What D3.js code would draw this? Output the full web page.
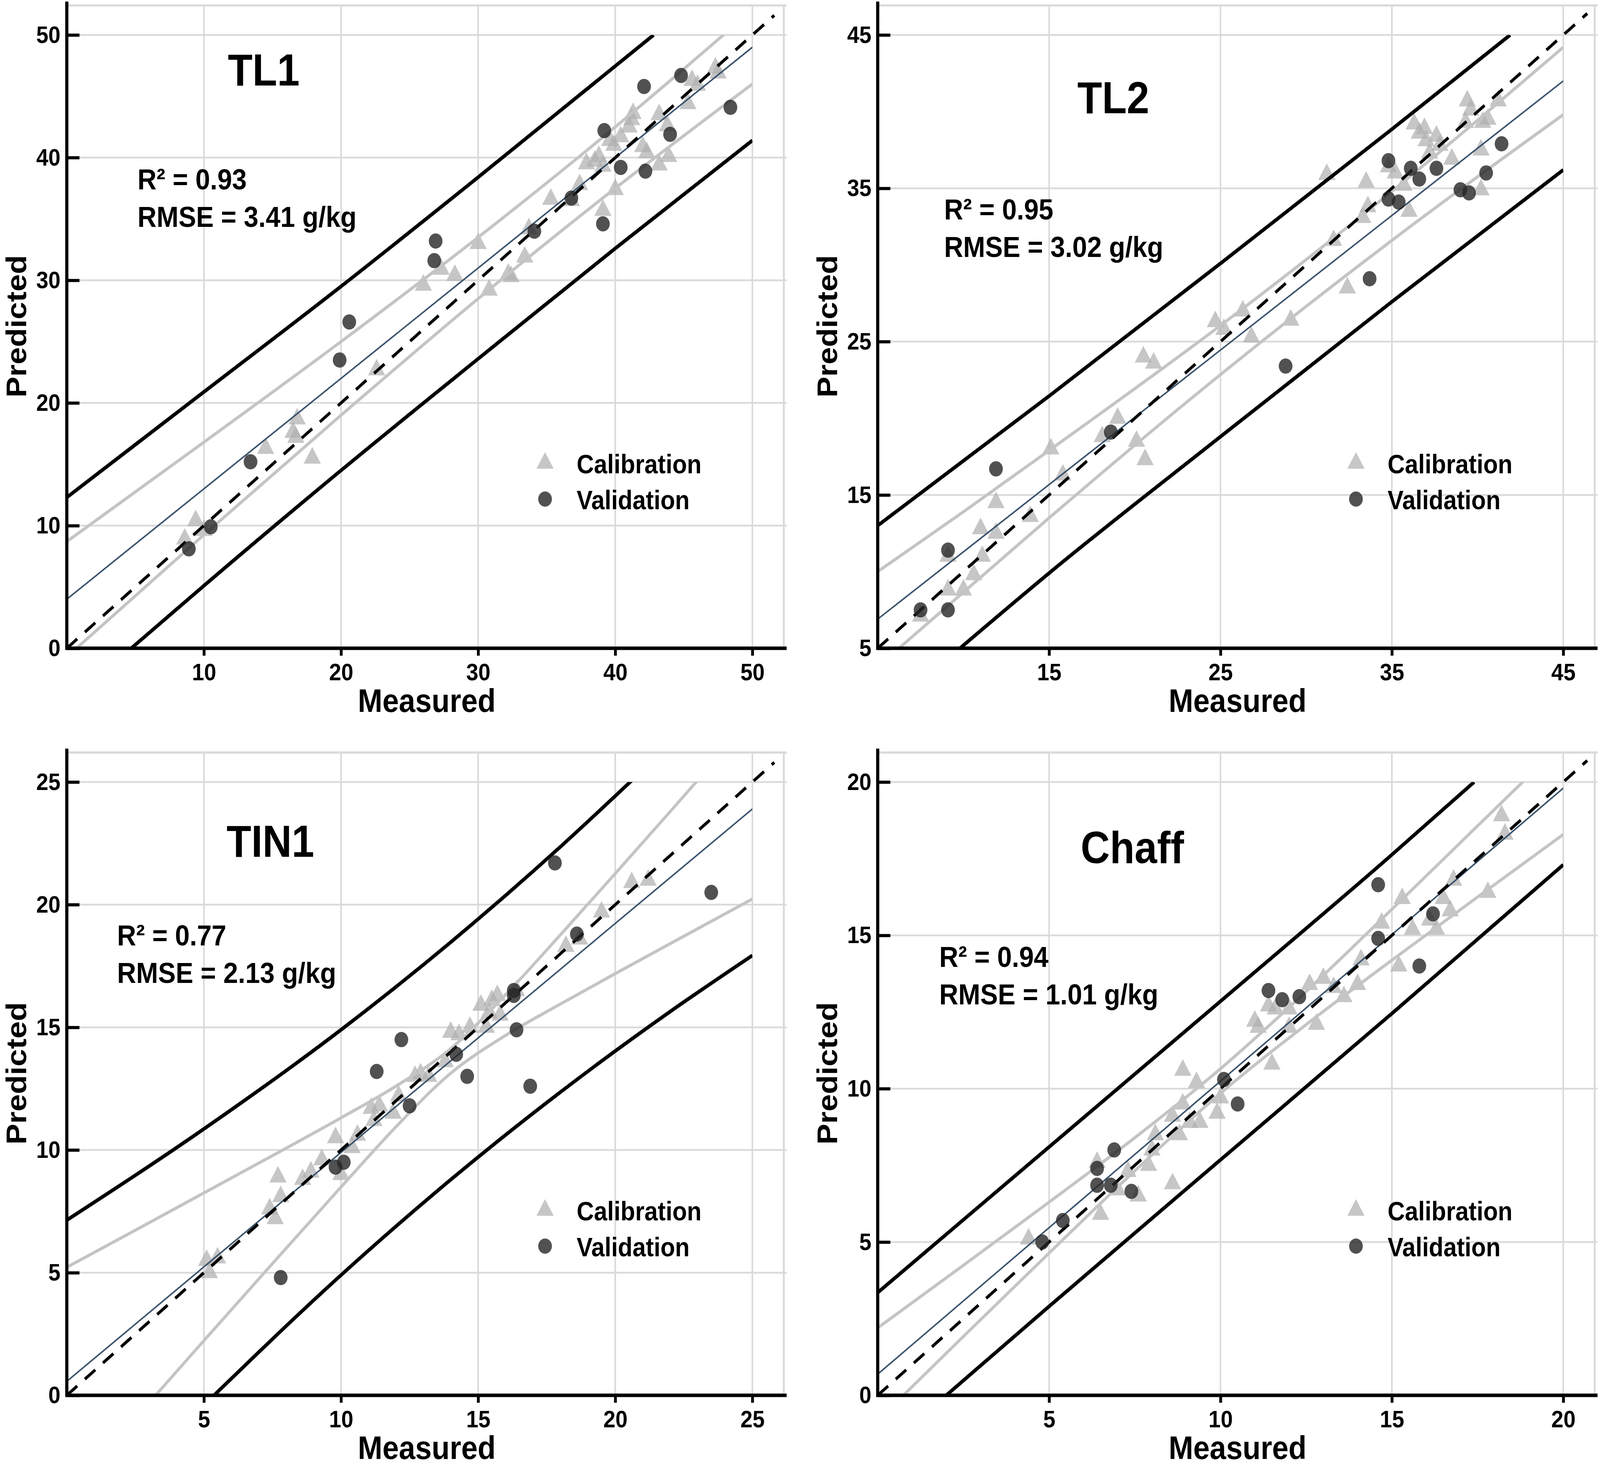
<!DOCTYPE html>
<html>
<head>
<meta charset="utf-8">
<script src="https://cdn.jsdelivr.net/npm/d3@7"></script>
<style>
  html, body { margin: 0; padding: 0; background: #fff; overflow: hidden; }
  svg { display: block; width: 100vw; height: 100vh; }
  text { font-family: "Liberation Sans", Arial, sans-serif; font-weight: bold; fill: #000; }
</style>
</head>
<body>
<div id="chart"></div>
<script>
// ---------- data: [measured, predicted] ----------
const tl1Cal = [[9.4,10.4],[8.6,8.9],[10.0,9.6],[14.5,16.3],[16.5,17.6],[16.8,18.7],[16.7,17.2],[17.9,15.5],
  [22.6,22.7],[26.0,29.6],[27.3,30.9],[28.3,30.4],[30.0,33.0],[30.8,29.2],[32.2,30.5],[32.4,30.3],[33.4,31.9],
  [33.7,34.2],[35.3,36.6],[36.8,36.5],[37.4,37.8],[37.9,39.5],[38.5,39.7],[38.8,40.1],[39.1,39.3],[39.1,35.7],
  [39.6,41.4],[39.9,41.0],[40.0,37.4],[40.4,41.7],[41.0,42.5],[41.2,43.1],[41.3,43.6],[42.0,40.9],[42.3,40.4],
  [43.2,43.5],[43.2,39.4],[43.9,40.1],[43.8,42.6],[45.3,44.4],[45.6,46.3],[46.0,45.9],[47.3,47.3],[47.5,46.9]];
const tl1Val = [[8.9,8.1],[10.5,9.9],[13.4,15.2],[19.9,23.5],[20.6,26.6],[26.8,31.6],[26.9,33.2],[34.1,34.0],
  [36.8,36.7],[39.2,42.2],[39.1,34.6],[40.4,39.2],[42.1,45.8],[42.2,38.9],[44.0,41.9],[44.8,46.7],[48.4,44.1]];

const tl2Cal = [[7.5,7.1],[9.1,8.8],[9.1,11.0],[10.0,8.8],[10.6,9.8],[11.0,12.8],[11.1,11.0],[11.9,14.5],
  [11.9,12.5],[13.9,13.6],[15.1,18.0],[15.8,16.3],[18.1,18.8],[19.0,20.0],[20.1,18.5],[20.5,24.0],[20.6,17.3],
  [21.1,23.6],[24.7,26.3],[25.2,25.8],[26.3,27.0],[26.8,25.3],[29.1,26.4],[31.2,35.9],[31.6,31.6],[32.4,28.5],
  [33.3,33.1],[33.5,35.4],[33.6,33.8],[34.8,36.4],[35.2,36.0],[35.7,35.2],[36.0,33.5],[36.3,39.2],[36.6,38.6],
  [36.9,38.9],[37.0,38.1],[37.2,37.3],[37.6,38.4],[37.8,37.8],[38.5,36.9],[39.3,39.3],[39.4,40.7],[39.6,40.1],
  [40.2,37.5],[40.3,39.3],[40.6,39.5],[40.2,34.9],[41.2,40.7]];
const tl2Val = [[7.5,7.5],[9.1,7.5],[9.1,11.4],[11.9,16.7],[18.6,19.1],[28.8,23.4],[33.7,29.1],[34.8,36.8],
  [34.8,34.3],[35.4,34.1],[36.1,36.3],[36.6,35.6],[37.6,36.3],[39.0,34.9],[39.5,34.7],[40.5,36.0],[41.4,37.9]];

const tin1Cal = [[5.1,5.5],[5.2,5.0],[5.5,5.6],[7.4,7.6],[7.6,7.2],[7.7,8.9],[7.8,8.1],[8.6,8.8],[8.9,9.1],
  [9.3,9.6],[9.8,10.5],[10.0,9.0],[10.4,10.1],[10.6,10.6],[11.1,11.7],[11.2,11.2],[11.4,11.8],[11.9,11.5],
  [12.1,12.2],[12.7,13.0],[12.9,13.1],[13.2,13.0],[13.8,13.6],[14.0,14.8],[14.3,14.7],[14.7,15.0],[15.1,15.9],
  [15.3,15.0],[15.4,15.6],[15.5,16.1],[15.7,16.3],[15.8,15.5],[16.4,16.5],[18.2,18.3],[18.7,18.6],[19.5,19.7],
  [20.6,20.9],[21.2,21.0]];
const tin1Val = [[7.8,4.8],[9.8,9.3],[10.1,9.5],[11.3,13.2],[12.2,14.5],[12.5,11.8],[14.2,13.9],[14.6,13.0],
  [16.3,16.3],[16.3,16.5],[16.4,14.9],[16.9,12.6],[17.8,21.7],[18.6,18.8],[23.5,20.5]];

const chaffCal = [[4.4,5.1],[6.4,7.6],[6.5,5.9],[7.0,6.7],[7.3,7.3],[7.6,6.5],[7.9,7.5],[8.0,8.0],[8.1,8.5],
  [8.6,6.9],[8.6,9.1],[8.8,8.5],[8.9,10.6],[8.9,9.5],[9.1,8.9],[9.3,10.2],[9.4,8.9],[9.9,9.2],[10.0,9.7],
  [11.0,12.2],[11.1,12.0],[11.4,12.7],[11.5,10.8],[11.6,12.6],[12.0,12.0],[12.0,12.6],[12.6,13.4],[12.8,12.1],
  [13.0,13.6],[13.3,13.3],[13.6,13.0],[14.0,13.4],[14.1,14.2],[14.7,15.4],[15.2,14.0],[15.3,16.2],[15.6,15.2],
  [16.1,15.5],[16.3,15.2],[16.5,16.2],[16.7,15.8],[16.8,16.8],[17.8,16.4],[18.2,18.9],[18.3,18.3]];
const chaffVal = [[4.8,5.0],[5.4,5.7],[6.4,7.4],[6.4,6.85],[6.9,8.0],[6.8,6.85],[7.4,6.65],[10.1,10.3],
  [10.5,9.5],[11.4,13.2],[11.8,12.9],[12.3,13.0],[14.6,16.65],[14.6,14.9],[15.8,14.0],[16.2,15.7]];

// fitted line, 95% bands (grey) and prediction limits (black), read at points along each curve
const tl1Fit = [[0,4.0],[50,49.0]];
const tl1Up95 = [[0,8.7],[10,16.8],[20,25.0],[30,33.5],[40,42.5],[48.2,50.3]];
const tl1Lo95 = [[0,-0.7],[10,9.25],[20,19.0],[30,28.5],[40,37.5],[50,46.0]];
const tl1UpPI = [[0,12.3],[10,20.9],[20,29.5],[30,38.4],[42.8,50.0]];
const tl1LoPI = [[4.7,0],[10,5.1],[20,14.5],[30,23.6],[40,32.6],[50,41.4]];

const tl2Fit = [[5,6.9],[45,42.0]];
const tl2Up95 = [[5,10.0],[10,13.9],[15,17.9],[25,26.05],[35,34.8],[45,44.2]];
const tl2Lo95 = [[5,3.8],[10,8.65],[15,13.5],[25,22.85],[35,31.6],[45,39.8]];
const tl2UpPI = [[5,13.0],[15,21.45],[25,30.1],[35,38.85],[41.9,45.0]];
const tl2LoPI = [[9.8,5.0],[15,9.9],[25,18.8],[35,27.6],[45,36.2]];

const tin1Fit = [[0,0.57],[25,23.9]];
const tin1Up95 = [[0,5.22],[2.5,6.73],[5,8.25],[7.5,9.77],[10,11.31],[12,12.6],[14,14.13],[16,16.33],
  [18,18.77],[20,21.27],[22,23.79],[23.5,25.7]];
const tin1Lo95 = [[3,-0.3],[5,2.23],[7.5,5.37],[10,8.49],[12,10.94],[14,13.13],[16,14.67],[18,15.95],
  [20,17.19],[22,18.41],[25,20.23]];
const tin1UpPI = [[0,7.14],[5,10.86],[10,14.9],[14,18.47],[18,22.36],[20.6,25.06]];
const tin1LoPI = [[5,-0.4],[10,4.9],[14,8.79],[18,12.36],[22,15.64],[25,17.93]];

const chaffFit = [[0,0.69],[20,19.8]];
const chaffUp95 = [[0,2.2],[2.5,4.24],[5,6.3],[7.5,8.4],[10,10.65],[12.5,13.17],[15,15.85],[17.5,18.57],[19,20.2]];
const chaffLo95 = [[0,-0.82],[2.5,1.92],[5,4.64],[7.5,7.32],[10,9.85],[12.5,12.09],[15,14.19],[17.5,16.25],[20,18.29]];
const chaffUpPI = [[0,3.35],[5,8.1],[10,12.85],[15,17.63],[17.4,20.0]];
const chaffLoPI = [[2.0,0],[5,2.9],[10,7.68],[15,12.45],[20,17.3]];

// ticks
const tl1XTicks = [10,20,30,40,50],  tl1YTicks = [0,10,20,30,40,50];
const tl2XTicks = [15,25,35,45],     tl2YTicks = [5,15,25,35,45];
const tin1XTicks = [5,10,15,20,25],  tin1YTicks = [0,5,10,15,20,25];
const chaffXTicks = [5,10,15,20],    chaffYTicks = [0,5,10,15,20];

const panelNames = ["TL1","TL2","TIN1","Chaff"];
const r2Values = ["0.93","0.95","0.77","0.94"];
const rmseValues = ["3.41","3.02","2.13","1.01"];

// ---------- layout ----------
const W = 4550, H = 3754;
const PW = 2047, PH = 1649;

const panels = [
  {cal:tl1Cal, val:tl1Val, fit:tl1Fit, up95:tl1Up95, lo95:tl1Lo95, upPI:tl1UpPI, loPI:tl1LoPI,
   xTicks:tl1XTicks, yTicks:tl1YTicks, dom:[0,52.5], oneEnd:51.6,
   left:190, top:11, titleX:560, titleY:208, statX:201, statY:474},
  {cal:tl2Cal, val:tl2Val, fit:tl2Fit, up95:tl2Up95, lo95:tl2Lo95, upPI:tl2UpPI, loPI:tl2LoPI,
   xTicks:tl2XTicks, yTicks:tl2YTicks, dom:[5,47], oneEnd:46.4,
   left:2496, top:11, titleX:670, titleY:279, statX:189, statY:551},
  {cal:tin1Cal, val:tin1Val, fit:tin1Fit, up95:tin1Up95, lo95:tin1Lo95, upPI:tin1UpPI, loPI:tin1LoPI,
   xTicks:tin1XTicks, yTicks:tin1YTicks, dom:[0,26.25], oneEnd:25.8,
   left:190, top:1924, titleX:579, titleY:270, statX:143, statY:497},
  {cal:chaffCal, val:chaffVal, fit:chaffFit, up95:chaffUp95, lo95:chaffLo95, upPI:chaffUpPI, loPI:chaffLoPI,
   xTicks:chaffXTicks, yTicks:chaffYTicks, dom:[0,21], oneEnd:20.7,
   left:2496, top:1924, titleX:724, titleY:286, statX:175, statY:552}
];

// the window is not exactly 4550x3754 css px, so the figure is mapped onto the whole viewport
const svg = d3.select("#chart").append("svg")
  .attr("viewBox", `0 0 ${W} ${H}`)
  .attr("preserveAspectRatio", "none");
svg.append("rect").attr("width", W).attr("height", H).attr("fill", "#fff");

const gridColor = "#dadada";
const triShape = d3.symbol().type(d3.symbolTriangle).size(1040);
const circleR = 19.5;

panels.forEach((p, i) => {
  const g = svg.append("g").attr("transform", `translate(${p.left},${p.top})`);
  const x = d3.scaleLinear().domain(p.dom).range([0, PW]);
  const y = d3.scaleLinear().domain(p.dom).range([PH, 0]);

  // grid + top/right border
  g.append("g").selectAll("line").data(p.xTicks).join("line")
    .attr("x1", d => x(d)).attr("x2", d => x(d)).attr("y1", 0).attr("y2", PH)
    .attr("stroke", gridColor).attr("stroke-width", 4.5);
  g.append("g").selectAll("line").data(p.yTicks.slice(1)).join("line")
    .attr("x1", 0).attr("x2", PW).attr("y1", d => y(d)).attr("y2", d => y(d))
    .attr("stroke", gridColor).attr("stroke-width", 4.5);
  g.append("line").attr("x1", 0).attr("x2", PW).attr("y1", 3).attr("y2", 3)
    .attr("stroke", gridColor).attr("stroke-width", 5.5);
  g.append("line").attr("x1", PW - 8).attr("x2", PW - 8).attr("y1", 0).attr("y2", PH)
    .attr("stroke", gridColor).attr("stroke-width", 5.5);

  // clip lines to tick range
  const xMaxT = d3.max(p.xTicks), yMinT = p.yTicks[0], yMaxT = d3.max(p.yTicks);
  const clipId = "clip" + i;
  g.append("clipPath").attr("id", clipId).append("rect")
    .attr("x", 0).attr("y", y(yMaxT))
    .attr("width", x(xMaxT)).attr("height", y(yMinT) - y(yMaxT));

  // calibration triangles
  g.append("g").selectAll("path").data(p.cal).join("path")
    .attr("d", triShape)
    .attr("transform", d => `translate(${x(d[0])},${y(d[1])})`)
    .attr("fill", "#b0b0b0").attr("fill-opacity", 0.72);

  const line = d3.line().x(d => x(d[0])).y(d => y(d[1])).curve(d3.curveMonotoneX);
  const lines = g.append("g").attr("clip-path", `url(#${clipId})`);
  [p.up95, p.lo95].forEach(c => lines.append("path").attr("d", line(c))
    .attr("fill", "none").attr("stroke", "#c4c4c4").attr("stroke-width", 8));
  [p.upPI, p.loPI].forEach(c => lines.append("path").attr("d", line(c))
    .attr("fill", "none").attr("stroke", "#000").attr("stroke-width", 9.5));
  lines.append("path").attr("d", line(p.fit))
    .attr("fill", "none").attr("stroke", "#3a536c").attr("stroke-width", 4);

  // 1:1 line
  g.append("path").attr("d", line([[p.dom[0], p.dom[0]], [p.oneEnd, p.oneEnd]]))
    .attr("fill", "none").attr("stroke", "#000").attr("stroke-width", 8)
    .attr("stroke-dasharray", "38,28");

  // validation circles
  g.append("g").selectAll("circle").data(p.val).join("circle")
    .attr("cx", d => x(d[0])).attr("cy", d => y(d[1])).attr("r", circleR)
    .attr("fill", "#262626").attr("fill-opacity", 0.8);

  // axes: x ticks point out, y ticks point in
  const xa = g.append("g").attr("transform", `translate(0,${PH})`)
    .call(d3.axisBottom(x).tickValues(p.xTicks).tickSize(19).tickPadding(19).tickSizeOuter(0));
  const ya = g.append("g")
    .call(d3.axisLeft(y).tickValues(p.yTicks).tickSize(-36).tickPadding(18).tickSizeOuter(0));
  [xa, ya].forEach(a => {
    a.select(".domain").remove();
    a.selectAll(".tick line").attr("stroke", "#000").attr("stroke-width", 8);
    a.selectAll(".tick text").attr("font-size", 62).attr("fill", "#000")
      .style("font-family", "'Liberation Sans', Arial, sans-serif").style("font-weight", "bold");
  });
  g.append("line").attr("x1", -4).attr("x2", PW).attr("y1", PH).attr("y2", PH)
    .attr("stroke", "#000").attr("stroke-width", 9);
  g.append("line").attr("x1", 0).attr("x2", 0).attr("y1", PH + 4).attr("y2", -7)
    .attr("stroke", "#000").attr("stroke-width", 9);

  // texts
  g.append("text").attr("x", p.titleX).attr("y", p.titleY)
    .attr("text-anchor", "middle").attr("font-size", 115).text(panelNames[i]);
  g.append("text").attr("x", p.statX).attr("y", p.statY)
    .attr("font-size", 75).text("R² = " + r2Values[i]);
  g.append("text").attr("x", p.statX).attr("y", p.statY + 96)
    .attr("font-size", 75).text("RMSE = " + rmseValues[i] + " g/kg");

  const lx = 1360, ly = 1175;
  g.append("path").attr("d", triShape).attr("transform", `translate(${lx},${ly})`)
    .attr("fill", "#b0b0b0").attr("fill-opacity", 0.72);
  g.append("text").attr("x", lx + 90).attr("y", ly + 26).attr("font-size", 68).text("Calibration");
  g.append("circle").attr("cx", lx).attr("cy", ly + 92).attr("r", circleR)
    .attr("fill", "#262626").attr("fill-opacity", 0.8);
  g.append("text").attr("x", lx + 90).attr("y", ly + 118).attr("font-size", 68).text("Validation");

  g.append("text").attr("x", PW / 2).attr("y", PH + 163)
    .attr("text-anchor", "middle").attr("font-size", 84).text("Measured");
  g.append("text").attr("transform", `translate(-116,${PH / 2}) rotate(-90)`)
    .attr("text-anchor", "middle").attr("font-size", 80).text("Predicted");
});
</script>
</body>
</html>
